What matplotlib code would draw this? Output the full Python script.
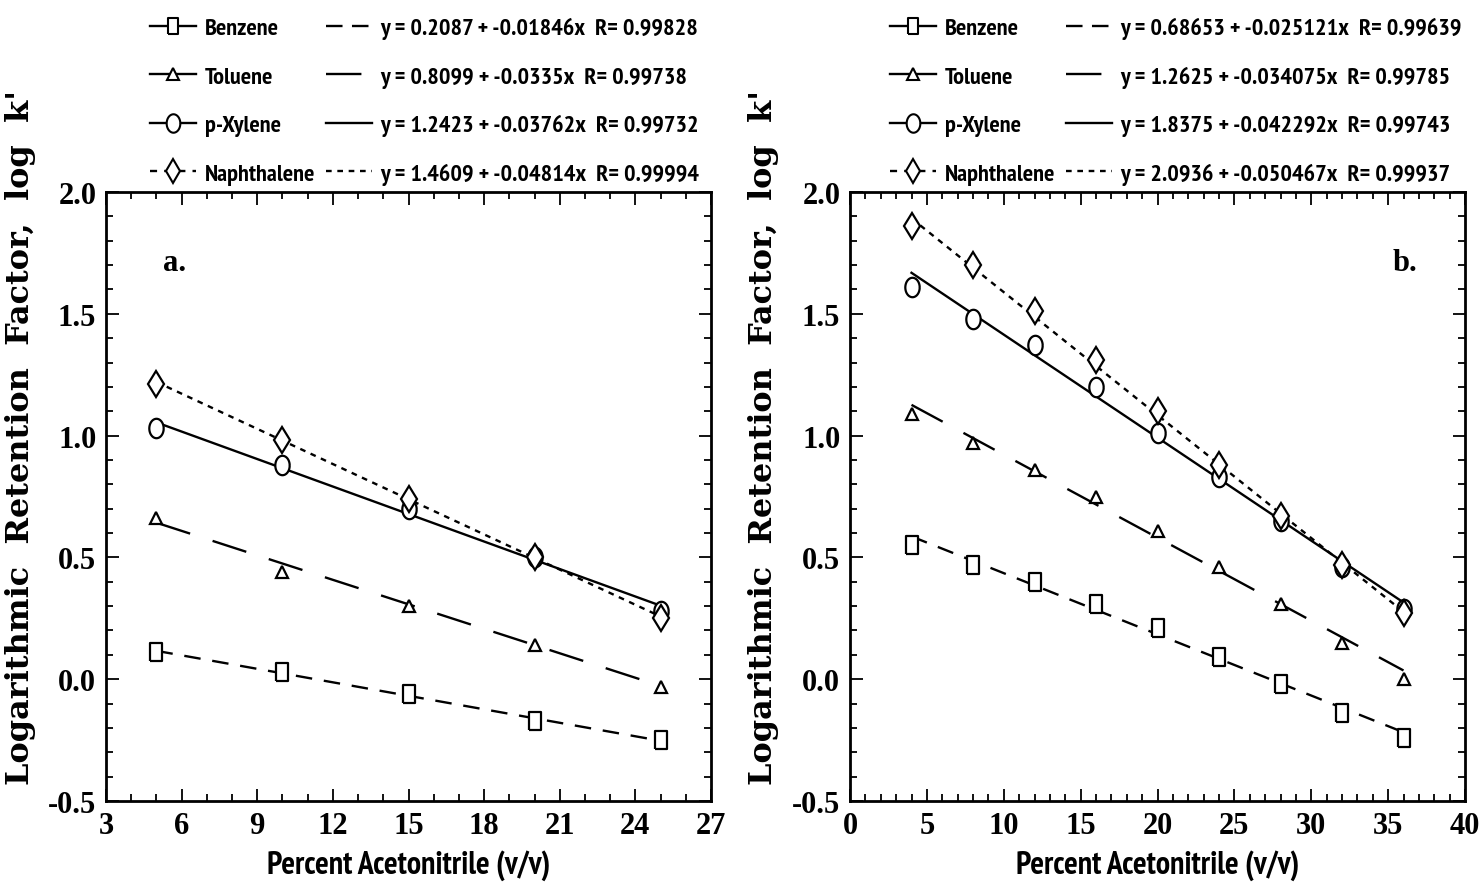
import numpy as np
import matplotlib
matplotlib.use("Agg")
import matplotlib.pyplot as plt
import matplotlib.ticker as ticker
from matplotlib.lines import Line2D
from matplotlib import font_manager
from matplotlib.font_manager import FontProperties

# retention data, panel a (x = % acetonitrile)
pct_a = [5, 10, 15, 20, 25]
benzene_a = [0.11, 0.03, -0.06, -0.17, -0.25]
toluene_a = [0.66, 0.44, 0.30, 0.14, -0.03]
xylene_a = [1.03, 0.88, 0.70, 0.50, 0.28]
naph_a = [1.21, 0.98, 0.74, 0.50, 0.25]
# fit parameters (intercept, slope, R), panel a
fit_a = [(0.2087, -0.01846, 0.99828), (0.8099, -0.0335, 0.99738),
         (1.2423, -0.03762, 0.99732), (1.4609, -0.04814, 0.99994)]
fit_text_a = ["0.2087", "-0.01846", "0.99828", "0.8099", "-0.0335", "0.99738",
              "1.2423", "-0.03762", "0.99732", "1.4609", "-0.04814", "0.99994"]

# panel b
pct_b = [4, 8, 12, 16, 20, 24, 28, 32, 36]
benzene_b = [0.55, 0.47, 0.40, 0.31, 0.21, 0.09, -0.02, -0.14, -0.24]
toluene_b = [1.09, 0.97, 0.86, 0.75, 0.61, 0.46, 0.31, 0.15, 0.00]
xylene_b = [1.61, 1.48, 1.37, 1.20, 1.01, 0.83, 0.65, 0.46, 0.29]
naph_b = [1.86, 1.70, 1.51, 1.31, 1.10, 0.88, 0.67, 0.47, 0.27]
fit_b = [(0.68653, -0.025121, 0.99639), (1.2625, -0.034075, 0.99785),
         (1.8375, -0.042292, 0.99743), (2.0936, -0.050467, 0.99937)]
fit_text_b = ["0.68653", "-0.025121", "0.99639", "1.2625", "-0.034075", "0.99785",
              "1.8375", "-0.042292", "0.99743", "2.0936", "-0.050467", "0.99937"]

compounds = ["Benzene", "Toluene", "p-Xylene", "Naphthalene"]


def pick_narrow_bold():
    # look for any installed condensed / narrow bold upright face
    found = []
    for f in font_manager.fontManager.ttflist:
        st = f.stretch
        cond = ("Narrow" in f.name or "Condensed" in f.name or "Condensed" in f.fname
                or (isinstance(st, str) and "condensed" in st)
                or (isinstance(st, (int, float)) and st < 100))
        wt = f.weight
        if not isinstance(wt, int):
            wt = font_manager.weight_dict.get(wt, 400)
        if cond and wt >= 600 and f.style == "normal" and "Italic" not in f.fname \
                and "Oblique" not in f.fname:
            found.append(f)
    if not found:
        return FontProperties(family="DejaVu Sans", weight="bold"), False
    found.sort(key=lambda f: ("Narrow" not in f.name, "extra" in str(f.stretch), f.name))
    return FontProperties(fname=found[0].fname), True


narrow_fp, has_narrow = pick_narrow_bold()
serif = "Liberation Serif"
scale = 1.0 if has_narrow else 0.8


def nfp(size):
    fp = narrow_fp.copy()
    fp.set_size(size * scale)
    return fp


# marker shapes: tall rectangle, ellipse, triangle, thin diamond
t = np.linspace(0, 2 * np.pi, 41)
rect_mk = [(-0.32, -0.5), (0.32, -0.5), (0.32, 0.5), (-0.32, 0.5), (-0.32, -0.5)]
ell_mk = list(zip(0.37 * np.cos(t), 0.5 * np.sin(t)))
markers = [rect_mk, "^", ell_mk, "d"]
msizes = [12.5, 8.5, 14, 13]
dashes = [(7, 5), (15, 10), None, (2.4, 2.4)]
lw = 1.7

fig = plt.figure(figsize=(14.82, 8.87), dpi=100)
W, H = 1482, 887
ax_a = fig.add_axes([106 / W, 1 - 802 / H, 605 / W, 609 / H])
ax_b = fig.add_axes([850 / W, 1 - 802 / H, 615 / W, 609 / H])


def draw_panel(ax, x, ys, fits, fit_txt, xlim, xmajor, tag, tag_x, leg_x):
    handles1, handles2, labs1, labs2 = [], [], [], []
    for i, (yv, (b0, b1, r)) in enumerate(zip(ys, fits)):
        xs = np.array([x[0], x[-1]])
        ln, = ax.plot(xs, b0 + b1 * xs, color="black", lw=lw, zorder=2)
        if dashes[i] is not None:
            ln.set_dashes(dashes[i])
        ax.plot(x, yv, linestyle="none", marker=markers[i], ms=msizes[i],
                mfc="white", mec="black", mew=1.6, zorder=3)
        h1 = Line2D([], [], color="black", lw=lw, marker=markers[i],
                    ms=msizes[i] * 0.95, mfc="white", mec="black", mew=1.5)
        h2 = Line2D([], [], color="black", lw=lw)
        if i == 3:
            h1.set_dashes((3, 3))
        if dashes[i] is not None:
            h2.set_dashes((7, 4) if i == 0 else dashes[i])
        handles1.append(h1)
        handles2.append(h2)
        labs1.append(compounds[i])
        labs2.append("y = %s + %sx  R= %s" % (fit_txt[3 * i], fit_txt[3 * i + 1], fit_txt[3 * i + 2]))

    ax.set_xlim(*xlim)
    ax.set_ylim(-0.5, 2.0)
    ax.xaxis.set_major_locator(ticker.MultipleLocator(xmajor))
    ax.xaxis.set_minor_locator(ticker.MultipleLocator(1))
    ax.yaxis.set_major_locator(ticker.MultipleLocator(0.5))
    ax.yaxis.set_minor_locator(ticker.MultipleLocator(0.1))
    ax.yaxis.set_major_formatter(ticker.FormatStrFormatter("%.1f"))
    ax.tick_params(which="both", direction="in", top=True, right=True, width=1.3)
    ax.tick_params(which="major", length=9, pad=7)
    ax.tick_params(which="minor", length=5)
    for lab in ax.get_xticklabels() + ax.get_yticklabels():
        lab.set_fontfamily(serif)
        lab.set_fontweight("bold")
        lab.set_fontsize(22)
    for sp in ax.spines.values():
        sp.set_linewidth(2.0)

    ax.set_xlabel("Percent Acetonitrile (v/v)", fontproperties=nfp(23), labelpad=7)
    ax.set_ylabel("Logarithmic  Retention  Factor,  log  k'", fontfamily="DejaVu Serif",
                  fontweight="bold", fontsize=23)
    ax.yaxis.set_label_coords(-0.115, 0.598)
    ax.text(tag_x, 0.885, tag, transform=ax.transAxes, fontfamily=serif,
            fontweight="bold", fontsize=22, ha="center", va="center")

    leg = ax.legend(handles1 + handles2, labs1 + labs2, ncol=2, loc="lower left",
                    bbox_to_anchor=(leg_x, 1 - 186 / H), bbox_transform=fig.transFigure,
                    frameon=False, prop=nfp(17.5),
                    handlelength=1.9, handletextpad=0.35, columnspacing=0.45,
                    labelspacing=1.09, borderpad=0, borderaxespad=0)
    return leg


draw_panel(ax_a, pct_a, [benzene_a, toluene_a, xylene_a, naph_a], fit_a, fit_text_a,
           (3, 27), 3, "a.", 0.114, 150 / W)
draw_panel(ax_b, pct_b, [benzene_b, toluene_b, xylene_b, naph_b], fit_b, fit_text_b,
           (0, 40), 5, "b.", 0.902, 890 / W)

fig.savefig("out.png", dpi=100)
